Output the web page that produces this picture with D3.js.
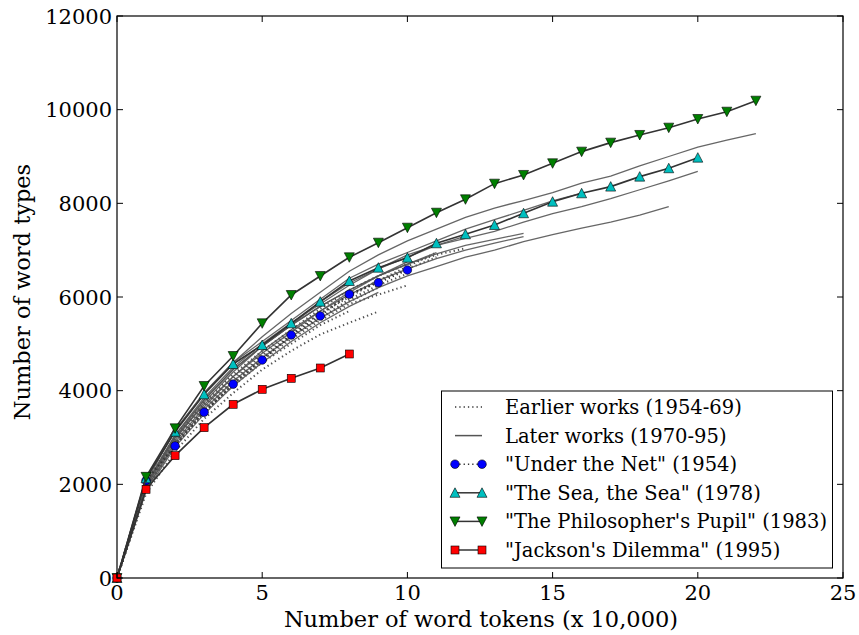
<!DOCTYPE html>
<html>
<head>
<meta charset="utf-8">
<script src="https://cdn.jsdelivr.net/npm/d3@7"></script>
<style>
  html, body { margin: 0; padding: 0; background: #fff; }
  svg { display: block; }
  text { font-family: "DejaVu Serif", serif; fill: #000; }
</style>
</head>
<body>
<svg id="chart" width="859" height="635"></svg>
<script>
// ---------- DATA (x = index, in units of 10,000 tokens) ----------
const xTicks = [0, 5, 10, 15, 20, 25];
const yTicks = [0, 2000, 4000, 6000, 8000, 10000, 12000];

const underTheNet = [0, 2080, 2820, 3540, 4140, 4655, 5190, 5595, 6058, 6306, 6577];
const seaTheSea = [0, 2128, 3124, 3922, 4570, 4975, 5438, 5900, 6342, 6626, 6840, 7147, 7339, 7538, 7788, 8035, 8214, 8357, 8570, 8749, 8975];
const philosophersPupil = [0, 2160, 3196, 4100, 4740, 5438, 6043, 6449, 6848, 7160, 7480, 7800, 8086, 8420, 8606, 8855, 9104, 9296, 9460, 9616, 9801, 9957, 10192];
const jacksonsDilemma = [0, 1894, 2612, 3210, 3709, 4029, 4264, 4484, 4783];

// other earlier works (1954-69), dotted
const earlierWorks = [
  [0, 1800, 2700, 3400, 3950, 4450, 4850, 5200, 5450, 5690],
  [0, 1900, 2850, 3550, 4150, 4650, 5100, 5500, 5850, 6050, 6250],
  [0, 2000, 3000, 3750, 4350, 4850, 5300, 5750, 6150, 6450, 6700, 6900, 7040],
  [0, 2000, 2950, 3650, 4250, 4750, 5200, 5650, 6050, 6350, 6600, 6850],
  [0, 1950, 2900, 3600, 4200, 4700, 5150, 5550, 5900, 6200],
  [0, 1900, 2850, 3550, 4100, 4600, 5000, 5400, 5700],
  [0, 1950, 2900, 3600, 4200, 4700, 5150, 5550, 5950, 6250, 6500],
  [0, 2050, 3000, 3700, 4300, 4800, 5250, 5650, 6000, 6350, 6650, 6950]
];

// other later works (1970-95), solid
const laterWorks = [
  [0, 2050, 3150, 3950, 4600, 5150, 5650, 6100, 6550, 6900, 7200, 7450, 7700, 7900, 8060, 8230, 8430, 8580, 8800, 9000, 9200, 9350, 9490],
  [0, 2000, 3050, 3850, 4500, 5000, 5450, 5850, 6250, 6600, 6900, 7100, 7250, 7400, 7600, 7780, 7930, 8100, 8290, 8480, 8680],
  [0, 1900, 2850, 3600, 4200, 4700, 5150, 5550, 5900, 6200, 6450, 6650, 6850, 7000, 7180, 7330, 7470, 7600, 7750, 7930],
  [0, 1950, 2950, 3750, 4400, 4950, 5400, 5800, 6150, 6450, 6700, 6920, 7100, 7230, 7360],
  [0, 1900, 2900, 3650, 4300, 4850, 5300, 5700, 6050, 6350, 6600, 6820, 7000, 7150, 7290],
  [0, 2100, 3150, 3950, 4600, 5050, 5500, 5950, 6400, 6700, 6950, 7200, 7450, 7650, 7850, 8050, 8220],
  [0, 2000, 3050, 3800, 4450, 4950, 5400, 5900, 6300, 6600, 6850, 7100, 7300],
  [0, 1950, 3000, 3800, 4450, 4950, 5400, 5800, 6150, 6450, 6700, 6950],
  [0, 1850, 2800, 3500, 4100, 4600, 5050, 5450, 5800, 6100],
  [0, 2000, 3000, 3700, 4300, 4800, 5250, 5700, 6100, 6450, 6750]
];

const legendLabels = [
  "Earlier works (1954-69)",
  "Later works (1970-95)",
  "\"Under the Net\" (1954)",
  "\"The Sea, the Sea\" (1978)",
  "\"The Philosopher's Pupil\" (1983)",
  "\"Jackson's Dilemma\" (1995)"
];

// ---------- CHART ----------
const svg = d3.select("#chart");
const L = 117, R = 843, T = 16, B = 578;

const x = d3.scaleLinear().domain([0, 25]).range([L, R]);
const y = d3.scaleLinear().domain([0, 12000]).range([B, T]);

const line = d3.line().x((d, i) => x(i)).y(d => y(d));

const plot = svg.append("g");
const lines = plot.append("g");

const DOT = "1.3,3";

earlierWorks.forEach(s => {
  lines.append("path").attr("d", line(s))
    .attr("fill", "none").attr("stroke", "#333").attr("stroke-width", 2)
    .attr("stroke-dasharray", DOT).attr("opacity", 0.85);
});
laterWorks.forEach(s => {
  lines.append("path").attr("d", line(s))
    .attr("fill", "none").attr("stroke", "#555").attr("stroke-width", 1.3)
    .attr("opacity", 0.9);
});

const seriesDefs = [
  { data: underTheNet, dash: DOT, shape: "circle", fill: "#0000ff" },
  { data: seaTheSea, dash: null, shape: "up", fill: "#00bfbf" },
  { data: philosophersPupil, dash: null, shape: "down", fill: "#007f00" },
  { data: jacksonsDilemma, dash: null, shape: "square", fill: "#ff0000" }
];

function marker(g, shape, fill, cx, cy) {
  if (shape === "circle") {
    g.append("circle").attr("cx", cx).attr("cy", cy).attr("r", 4.3)
      .attr("fill", fill).attr("stroke", "#000").attr("stroke-width", 0.6);
  } else if (shape === "square") {
    g.append("rect").attr("x", cx - 4).attr("y", cy - 4).attr("width", 8).attr("height", 8)
      .attr("fill", fill).attr("stroke", "#000").attr("stroke-width", 0.6);
  } else if (shape === "up") {
    const s = 5;
    g.append("path").attr("d", `M${cx},${cy - s}L${cx + s},${cy + s - 0.5}L${cx - s},${cy + s - 0.5}Z`)
      .attr("fill", fill).attr("stroke", "#000").attr("stroke-width", 0.6);
  } else {
    const s = 5;
    g.append("path").attr("d", `M${cx},${cy + s}L${cx + s},${cy - s + 0.5}L${cx - s},${cy - s + 0.5}Z`)
      .attr("fill", fill).attr("stroke", "#000").attr("stroke-width", 0.6);
  }
}

seriesDefs.forEach(sd => {
  const p = plot.append("path").attr("d", line(sd.data))
    .attr("fill", "none").attr("stroke", "#333").attr("stroke-width", sd.dash ? 2 : 1.6);
  if (sd.dash) p.attr("stroke-dasharray", sd.dash);
  const mg = plot.append("g");
  sd.data.forEach((v, i) => marker(mg, sd.shape, sd.fill, x(i), y(v)));
});

// ---------- AXES ----------
const axG = svg.append("g");
axG.append("rect").attr("x", L).attr("y", T).attr("width", R - L).attr("height", B - T)
  .attr("fill", "none").attr("stroke", "#000").attr("stroke-width", 1.2);

const tl = 6;
xTicks.forEach(t => {
  axG.append("line").attr("x1", x(t)).attr("x2", x(t)).attr("y1", B).attr("y2", B - tl).attr("stroke", "#000");
  axG.append("line").attr("x1", x(t)).attr("x2", x(t)).attr("y1", T).attr("y2", T + tl).attr("stroke", "#000");
  axG.append("text").attr("x", x(t)).attr("y", B + 22).attr("text-anchor", "middle")
    .style("font-size", "21px").text(t);
});
yTicks.forEach(t => {
  axG.append("line").attr("x1", L).attr("x2", L + tl).attr("y1", y(t)).attr("y2", y(t)).attr("stroke", "#000");
  axG.append("line").attr("x1", R).attr("x2", R - tl).attr("y1", y(t)).attr("y2", y(t)).attr("stroke", "#000");
  axG.append("text").attr("x", L - 5).attr("y", y(t)).attr("dy", "0.36em").attr("text-anchor", "end")
    .style("font-size", "21px").text(t);
});

svg.append("text").attr("x", 481).attr("y", 627).attr("text-anchor", "middle")
  .style("font-size", "22.5px").text("Number of word tokens (x 10,000)");
svg.append("text").attr("transform", `translate(30,${292}) rotate(-90)`)
  .attr("text-anchor", "middle").style("font-size", "22.5px").text("Number of word types");

// ---------- LEGEND ----------
const lg = svg.append("g");
lg.append("rect").attr("x", 441.5).attr("y", 391).attr("width", 391).attr("height", 177)
  .attr("fill", "#fff").attr("stroke", "#000").attr("stroke-width", 1);
const legendDefs = [
  { dash: DOT, stroke: "#333", shape: null },
  { dash: null, stroke: "#555", shape: null },
  { dash: DOT, stroke: "#333", shape: "circle", fill: "#0000ff" },
  { dash: null, stroke: "#333", shape: "up", fill: "#00bfbf" },
  { dash: null, stroke: "#333", shape: "down", fill: "#007f00" },
  { dash: null, stroke: "#333", shape: "square", fill: "#ff0000" }
];
legendLabels.forEach((lab, i) => {
  const cy = 407 + i * 28.6;
  const ln = lg.append("line").attr("x1", 455).attr("x2", 482).attr("y1", cy).attr("y2", cy)
    .attr("stroke", legendDefs[i].stroke).attr("stroke-width", legendDefs[i].dash ? 1.6 : 1.5);
  if (legendDefs[i].dash) ln.attr("stroke-dasharray", legendDefs[i].dash);
  if (legendDefs[i].shape) {
    marker(lg, legendDefs[i].shape, legendDefs[i].fill, 455, cy);
    marker(lg, legendDefs[i].shape, legendDefs[i].fill, 482, cy);
  }
  lg.append("text").attr("x", 505).attr("y", cy).attr("dy", "0.36em")
    .style("font-size", "19.5px").text(lab);
});
</script>
</body>
</html>
